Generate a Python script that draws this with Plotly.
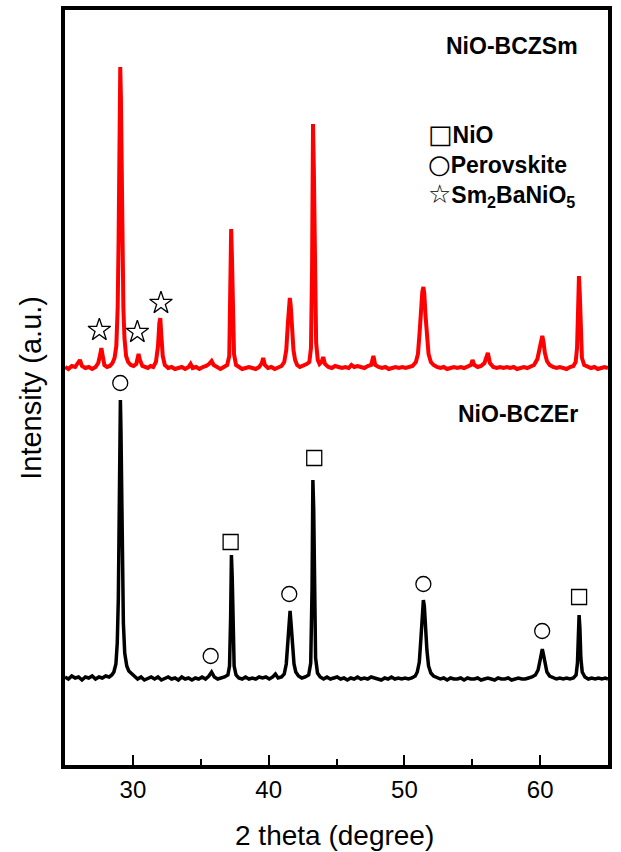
import plotly.graph_objects as go

# ---------------- data ----------------
# NiO-BCZEr pattern: (2theta [deg], intensity above its own baseline [a.u.])
bczer_pattern = [
    (25.0, 1), (25.25, -1), (25.5, 2), (25.75, 0), (26.0, 1), (26.25, -2), (26.5, 1),
    (26.75, 0), (27.0, 2), (27.25, -1), (27.5, 1), (27.75, 0), (28.0, 2), (28.25, 1),
    (28.45, 3), (28.6, 6), (28.75, 14), (28.85, 35), (28.93, 80), (29.0, 150),
    (29.04, 215), (29.08, 278), (29.12, 250), (29.17, 170), (29.22, 110), (29.3, 55),
    (29.4, 25), (29.55, 12), (29.7, 7), (29.9, 4), (30.1, 2), (30.35, -1), (30.6, 1),
    (30.85, -2), (31.1, 0), (31.35, 1), (31.6, -1), (31.85, 1), (32.1, -2), (32.35, 0),
    (32.6, 1), (32.85, -1), (33.1, 0), (33.35, -2), (33.6, 1), (33.85, -1), (34.1, 0),
    (34.35, -2), (34.6, 0), (34.85, -1), (35.1, 1), (35.35, -1), (35.6, 2), (35.8, 6),
    (36.0, 1), (36.25, -1), (36.5, 0), (36.75, 1), (37.0, 3), (37.12, 12), (37.2, 60),
    (37.26, 123), (37.32, 100), (37.38, 45), (37.46, 12), (37.6, 3), (37.8, 0),
    (38.05, -1), (38.3, 1), (38.55, -1), (38.8, 0), (39.05, -1), (39.3, 1), (39.55, 0),
    (39.8, 1), (40.05, -1), (40.3, 1), (40.5, 4), (40.7, 0), (40.95, 1), (41.15, 4),
    (41.3, 14), (41.42, 35), (41.52, 60), (41.58, 67), (41.65, 55), (41.75, 32),
    (41.87, 14), (42.0, 6), (42.2, 2), (42.45, 0), (42.7, 1), (42.95, 3), (43.1, 15),
    (43.2, 90), (43.26, 198), (43.32, 170), (43.38, 80), (43.46, 20), (43.6, 5),
    (43.8, 1), (44.05, -1), (44.3, 1), (44.55, -1), (44.8, 0), (45.05, 1), (45.3, -1),
    (45.55, 0), (45.8, -2), (46.05, 0), (46.3, -1), (46.55, 1), (46.8, -1), (47.05, 0),
    (47.3, -1), (47.55, 1), (47.8, 0), (48.05, -1), (48.3, -2), (48.55, 0), (48.8, -1),
    (49.05, 1), (49.3, -1), (49.55, 0), (49.8, -1), (50.05, 0), (50.3, -1), (50.55, 0),
    (50.8, 2), (50.95, 6), (51.1, 16), (51.22, 40), (51.32, 65), (51.4, 78),
    (51.47, 72), (51.56, 50), (51.66, 28), (51.78, 12), (51.95, 5), (52.15, 2),
    (52.4, 0), (52.65, -1), (52.9, 0), (53.15, -2), (53.4, 0), (53.65, -1), (53.9, -1),
    (54.15, 0), (54.4, -2), (54.65, 0), (54.9, -1), (55.15, -1), (55.4, 0), (55.65, -2),
    (55.9, -1), (56.15, 0), (56.4, -1), (56.65, -2), (56.9, 0), (57.15, -1), (57.4, -1),
    (57.65, 0), (57.9, -2), (58.15, -1), (58.4, 0), (58.65, -1), (58.9, -1), (59.15, 0),
    (59.4, 1), (59.65, 3), (59.85, 8), (60.0, 18), (60.1, 27), (60.16, 29), (60.24, 24),
    (60.35, 14), (60.5, 6), (60.7, 2), (60.95, 0), (61.2, -1), (61.45, 0), (61.7, -1),
    (61.95, 0), (62.2, -1), (62.45, 0), (62.65, 3), (62.75, 15), (62.82, 45),
    (62.87, 63), (62.93, 50), (63.0, 20), (63.1, 6), (63.3, 1), (63.55, -1), (63.8, 0),
    (64.05, -1), (64.3, 0), (64.55, -1), (64.8, 0), (65.0, -1),
]

# NiO-BCZSm pattern: (2theta [deg], intensity above its own baseline [a.u.])
bczsm_pattern = [
    (25.0, 1), (25.25, -1), (25.5, 2), (25.75, 1), (25.95, 5), (26.1, 8), (26.25, 2),
    (26.5, 0), (26.75, 1), (27.0, -1), (27.25, 1), (27.45, 5), (27.6, 14), (27.68, 20),
    (27.78, 12), (27.9, 3), (28.1, 1), (28.3, 2), (28.5, 5), (28.65, 10), (28.78, 22),
    (28.88, 60), (28.95, 130), (29.02, 220), (29.07, 301), (29.12, 270), (29.17, 190),
    (29.23, 110), (29.3, 60), (29.38, 30), (29.5, 12), (29.65, 6), (29.85, 3),
    (30.05, 2), (30.25, 4), (30.42, 14), (30.52, 8), (30.7, 2), (30.9, 1), (31.1, 0),
    (31.3, 2), (31.5, 1), (31.7, 6), (31.85, 22), (31.95, 45), (32.02, 50), (32.1, 32),
    (32.2, 12), (32.35, 3), (32.6, 0), (32.85, 1), (33.1, -1), (33.35, 0), (33.6, 1),
    (33.85, -1), (34.1, 1), (34.25, 4), (34.4, 0), (34.65, 1), (34.9, -1), (35.15, 1),
    (35.4, 2), (35.6, 4), (35.8, 7), (35.95, 3), (36.2, 1), (36.45, -1), (36.7, 1),
    (36.95, 3), (37.1, 12), (37.18, 60), (37.24, 139), (37.3, 110), (37.36, 50),
    (37.45, 14), (37.6, 3), (37.8, 1), (38.05, -1), (38.3, 0), (38.55, 1), (38.8, 0),
    (39.05, -1), (39.3, 1), (39.5, 5), (39.6, 10), (39.72, 3), (39.95, 0), (40.2, 1),
    (40.45, -1), (40.7, 0), (40.95, 2), (41.15, 6), (41.3, 18), (41.42, 45), (41.5, 65),
    (41.56, 70), (41.63, 62), (41.72, 40), (41.83, 18), (41.95, 8), (42.1, 3),
    (42.3, 1), (42.55, 2), (42.8, 4), (43.0, 6), (43.12, 20), (43.2, 100), (43.27, 244),
    (43.33, 200), (43.4, 90), (43.5, 25), (43.62, 8), (43.75, 4), (43.9, 6),
    (44.02, 11), (44.15, 4), (44.4, 1), (44.65, 0), (44.9, 2), (45.15, 1), (45.4, 0),
    (45.65, 1), (45.9, 0), (46.1, 3), (46.3, 1), (46.55, 2), (46.8, 1), (47.05, 0),
    (47.3, 2), (47.55, 3), (47.72, 12), (47.85, 3), (48.1, 1), (48.35, 0), (48.6, 1),
    (48.85, -1), (49.1, 0), (49.35, 1), (49.6, 0), (49.85, 1), (50.1, 0), (50.35, 1),
    (50.6, 2), (50.85, 6), (51.0, 14), (51.12, 35), (51.22, 60), (51.32, 76),
    (51.4, 81), (51.47, 74), (51.56, 52), (51.66, 30), (51.78, 14), (51.95, 6),
    (52.15, 3), (52.4, 1), (52.65, 0), (52.9, 1), (53.15, -1), (53.4, 0), (53.65, 1),
    (53.9, 0), (54.15, 1), (54.4, 0), (54.65, 1), (54.9, 3), (55.02, 8), (55.15, 3),
    (55.4, 1), (55.65, 2), (55.9, 5), (56.05, 12), (56.15, 15), (56.3, 5), (56.55, 1),
    (56.8, 0), (57.05, 1), (57.3, 0), (57.55, 1), (57.8, 0), (58.05, 1), (58.3, -1),
    (58.55, 0), (58.8, 1), (59.05, 0), (59.3, 1), (59.55, 3), (59.8, 9), (59.95, 18),
    (60.08, 30), (60.16, 32), (60.25, 26), (60.35, 15), (60.5, 7), (60.7, 3),
    (60.95, 1), (61.2, 0), (61.45, 1), (61.7, 0), (61.95, -1), (62.2, 1), (62.45, 2),
    (62.62, 6), (62.72, 20), (62.8, 60), (62.86, 92), (62.92, 75), (62.98, 35),
    (63.08, 10), (63.25, 3), (63.5, 1), (63.75, 0), (64.0, 1), (64.25, -1), (64.5, 0),
    (64.75, 1), (65.0, 0),
]

# vertical stacking offsets of the two patterns (a.u.)
bczer_offset = 87
bczsm_offset = 397

# phase identification marks: 2theta and height (a.u., same scale as plot)
nio_2theta = [37.2, 43.36, 62.87]
nio_level = [223, 307, 168]
perovskite_2theta = [29.07, 35.73, 41.52, 51.4, 60.15]
perovskite_level = [382, 109, 171, 181, 134]
sm2banio5_2theta = [27.53, 30.33, 32.07]
sm2banio5_level = [435, 433, 462]

phase_names = ["NiO", "Perovskite", "Sm<sub>2</sub>BaNiO<sub>5</sub>"]
phase_glyphs = ["□", "○", "☆"]

x_ticks = [30, 40, 50, 60]
x_title = "2 theta (degree)"
y_title = "Intensity (a.u.)"

# ---------------- figure ----------------
FONT = "Arial, Liberation Sans, sans-serif"

bczer_x = [p[0] for p in bczer_pattern]
bczer_y = [p[1] + bczer_offset for p in bczer_pattern]
bczsm_x = [p[0] for p in bczsm_pattern]
bczsm_y = [p[1] + bczsm_offset for p in bczsm_pattern]

fig = go.Figure()
fig.add_trace(go.Scatter(x=bczer_x, y=bczer_y, mode="lines",
                         line=dict(color="#000000", width=3.5), name="NiO-BCZEr"))
fig.add_trace(go.Scatter(x=bczsm_x, y=bczsm_y, mode="lines",
                         line=dict(color="#ff0000", width=4), name="NiO-BCZSm"))

mk_line = dict(color="#000000", width=1.3)
fig.add_trace(go.Scatter(x=nio_2theta, y=nio_level, mode="markers",
                         marker=dict(symbol="square-open", size=15, color="#000000", line=mk_line)))
fig.add_trace(go.Scatter(x=perovskite_2theta, y=perovskite_level, mode="markers",
                         marker=dict(symbol="circle-open", size=15, color="#000000", line=mk_line)))
fig.add_trace(go.Scatter(x=sm2banio5_2theta, y=sm2banio5_level, mode="markers",
                         marker=dict(symbol="star-open", size=17, color="#000000", line=mk_line)))

SYM = '<span style="font-family:DejaVu Sans;font-size:26px">{}</span>'
key_text = "<br>".join(SYM.format(g) + "<b>" + n + "</b>" for g, n in zip(phase_glyphs, phase_names))

ann_font = dict(family=FONT, size=23, color="#000000")
annotations = [
    dict(x=62.95, y=719, text="<b>NiO-BCZSm</b>", xanchor="right", yanchor="middle"),
    dict(x=62.95, y=351, text="<b>NiO-BCZEr</b>", xanchor="right", yanchor="middle"),
    dict(x=51.6, y=600, text=key_text, xanchor="left", yanchor="middle", align="left"),
]
for a in annotations:
    a.update(xref="x", yref="y", showarrow=False, font=ann_font)

# axis titles placed relative to the plot area
annotations += [
    dict(xref="paper", yref="paper", x=0.497, y=-0.093, text=x_title, showarrow=False,
         xanchor="center", yanchor="middle", font=dict(family=FONT, size=28, color="#000000")),
    dict(xref="paper", yref="paper", x=-0.064, y=0.5, text=y_title, showarrow=False,
         textangle=-90, xanchor="center", yanchor="middle",
         font=dict(family=FONT, size=29, color="#000000")),
]

fig.update_layout(
    width=621, height=852,
    margin=dict(l=65, r=13, t=10, b=87),
    paper_bgcolor="white", plot_bgcolor="white",
    showlegend=False,
    annotations=annotations,
    xaxis=dict(
        range=[25, 65], tickvals=x_ticks, ticks="inside", ticklen=10, tickwidth=2,
        tickcolor="#000000", showline=True, linewidth=3.5, linecolor="#000000",
        mirror=True, showgrid=False, zeroline=False, automargin=False,
        tickfont=dict(family=FONT, size=24, color="#000000"),
        minor=dict(ticks="inside", ticklen=6, tickwidth=2, tickcolor="#000000", dtick=5, tick0=25),
    ),
    yaxis=dict(
        range=[0, 755], showticklabels=False, ticks="", showline=True, linewidth=3.5,
        linecolor="#000000", mirror=True, showgrid=False, zeroline=False, automargin=False,
    ),
)

fig.write_html("out.html")
